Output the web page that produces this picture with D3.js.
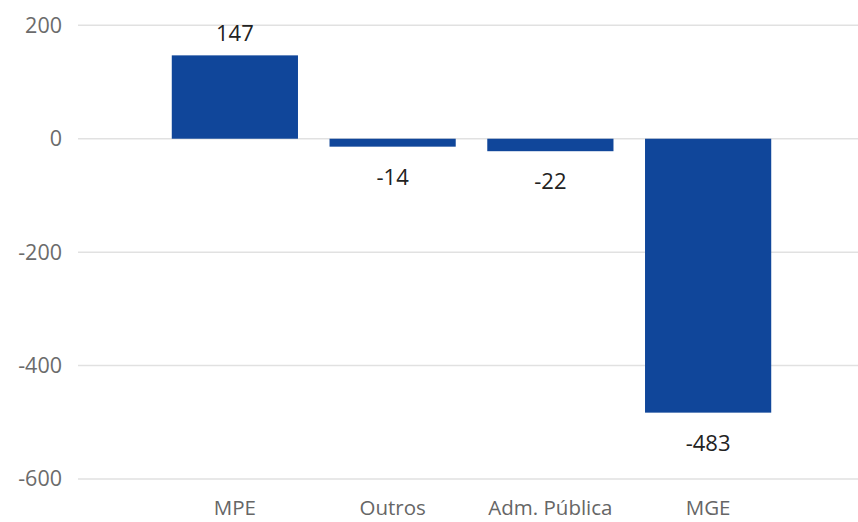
<!DOCTYPE html>
<html>
<head>
<meta charset="utf-8">
<script src="https://cdn.jsdelivr.net/npm/d3@7"></script>
<style>
  html, body { margin: 0; padding: 0; background: #fff; }
  svg { display: block; font-family: "Open Sans", "Noto Sans", sans-serif; }
</style>
</head>
<body>
<svg id="chart" width="858" height="522"></svg>
<script>
const categories = ["MPE", "Outros", "Adm. Pública", "MGE"];
const values = [147, -14, -22, -483];
const yTicks = [200, 0, -200, -400, -600];

const svg = d3.select("#chart");
const gridLeft = 78, gridRight = 858;

const y = d3.scaleLinear().domain([-600, 200]).range([479, 25.3]);
const x = d3.scaleBand().domain(categories).range([156, 787]).paddingInner(0.2).paddingOuter(0.1);

// gridlines
svg.append("g").selectAll("line").data(yTicks).join("line")
  .attr("x1", gridLeft).attr("x2", gridRight)
  .attr("y1", d => y(d)).attr("y2", d => y(d))
  .attr("stroke", "#e1e1e1").attr("stroke-width", 1.5);

// y axis labels
const yAxis = d3.axisLeft(y).tickValues(yTicks).tickSize(0).tickPadding(0).tickFormat(d => String(d));
const ya = svg.append("g").attr("transform", `translate(62,0)`).call(yAxis);
ya.select(".domain").remove();
ya.selectAll("text").attr("fill", "#6b6b6b").style("font-size", "21.5px").style("font-family", '"Open Sans", sans-serif');

// bars
svg.append("g").selectAll("rect").data(values).join("rect")
  .attr("x", (d, i) => x(categories[i]))
  .attr("width", x.bandwidth())
  .attr("y", d => y(Math.max(0, d)))
  .attr("height", d => Math.abs(y(d) - y(0)))
  .attr("fill", "#10469a");

// data labels
svg.append("g").selectAll("text").data(values).join("text")
  .attr("x", (d, i) => x(categories[i]) + x.bandwidth() / 2)
  .attr("y", d => d >= 0 ? y(d) - 14 : y(d) + 38)
  .attr("text-anchor", "middle")
  .attr("fill", "#222222")
  .style("font-size", "22px")
  .text(d => String(d));

// x axis labels
const xAxis = d3.axisBottom(x).tickSize(0).tickPadding(0);
const xa = svg.append("g").attr("transform", `translate(0,500)`).call(xAxis);
xa.select(".domain").remove();
xa.selectAll("text").attr("fill", "#666666").style("font-size", "20.5px").style("font-family", '"Open Sans", sans-serif');
</script>
</body>
</html>
